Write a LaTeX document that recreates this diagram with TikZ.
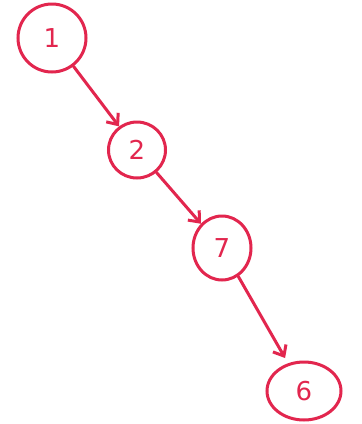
\documentclass[tikz,border=0pt]{standalone}
\usepackage{fontspec}
\setmainfont{DejaVu Sans}
\usetikzlibrary{shapes.geometric,arrows.meta}
\definecolor{ink}{RGB}{226,38,78}
\begin{document}
\begin{tikzpicture}[x=1pt,y=-1pt,
  vtx/.style={draw=ink,ellipse,line width=3pt,inner sep=0pt,text=ink,font=\fontsize{26}{26}\selectfont},
  link/.style={draw=ink,line width=3pt,line cap=round,-{Straight Barb[length=9pt,width=15pt,line width=3pt]}}]
\useasboundingbox (0,0) rectangle (362,424);
\fill[white] (0,0) rectangle (362,424);
\node[vtx,minimum width=68pt,minimum height=68pt] (a) at (52,38) {1};
\node[vtx,minimum width=57pt,minimum height=56pt] (b) at (137,150) {2};
\node[vtx,minimum width=58pt,minimum height=64pt] (c) at (222,248) {7};
\node[vtx,minimum width=74pt,minimum height=58pt] (d) at (304,391) {6};
\draw[link] (a) -- (b);
\draw[link] (b) -- (c);
\draw[link,shorten >=6pt] (c) -- (d);
\end{tikzpicture}
\end{document}
